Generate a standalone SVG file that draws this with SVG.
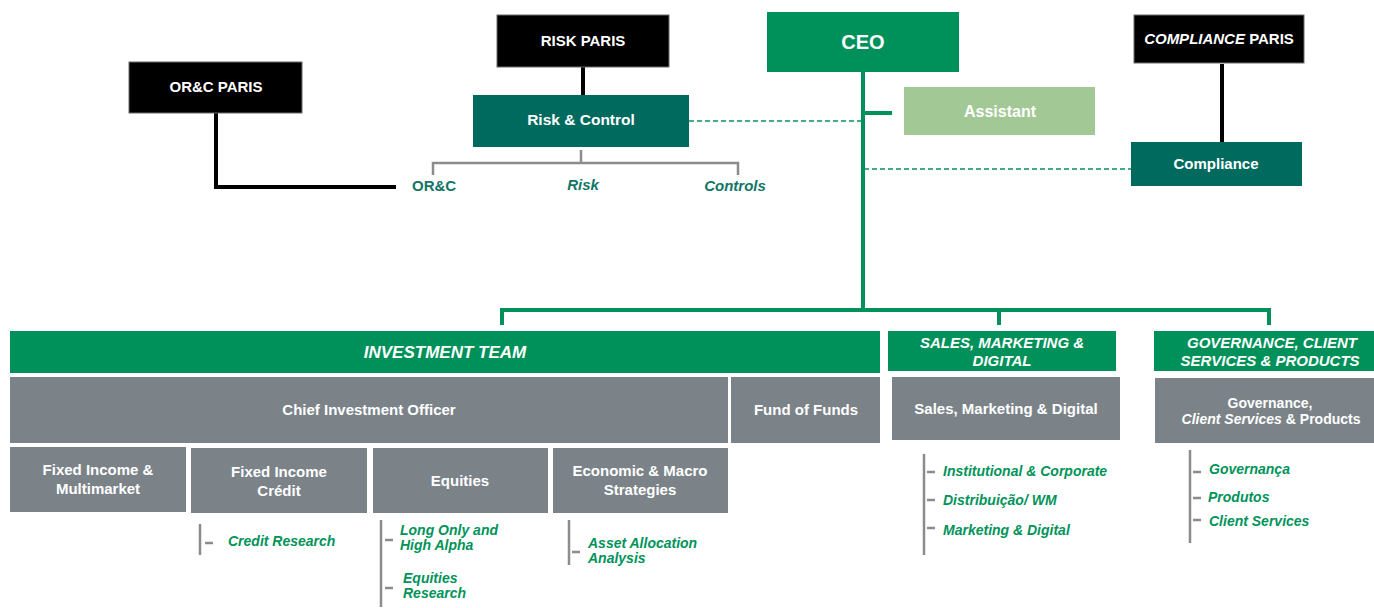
<svg xmlns="http://www.w3.org/2000/svg" width="1374" height="608" viewBox="0 0 1374 608">
<style>
text{font-family:"Liberation Sans",Arial,sans-serif;font-weight:bold;}
.w{fill:#ffffff;font-size:15px;text-anchor:middle;}
.blk{fill:#000000;stroke:#6a6a6a;stroke-width:1;}
.grn{fill:#00915A;}
.teal{fill:#006A5F;}
.gry{fill:#7B8389;}
.lab{fill:#127566;font-size:15px;}
.sub{fill:#00935A;font-size:14px;font-style:italic;}
.hd{fill:#ffffff;font-size:15px;font-style:italic;text-anchor:middle;}
.bl{stroke:#000;stroke-width:4;fill:none;}
.gl{stroke:#00915A;stroke-width:4;fill:none;}
.dl{stroke:#00915A;stroke-width:1.6;stroke-dasharray:5,3;fill:none;}
.gr{stroke:#8C8C8C;stroke-width:2.5;fill:none;}
</style>
<g id="connectors">
<path class="bl" d="M216 113 V187 H396"/>
<path class="bl" d="M583 67 V95"/>
<path class="bl" d="M1222 64 V142"/>
<path class="gr" d="M581 150 V163 M433 175 V163 H738 V175"/>
<path class="dl" d="M689 121 H862"/>
<path class="dl" d="M864 169 H1131"/>
<path class="gl" d="M863 72 V310"/>
<path class="gl" d="M863 113 H892"/>
<path class="gl" d="M502 325 V310 H1269 V325"/>
<path class="gl" d="M999 310 V325"/>
<path class="gr" d="M200 524 V555 M205 543 H213"/>
<path class="gr" d="M381 520 V607 M385 540 H393 M385 588 H393"/>
<path class="gr" d="M569 520 V565 M572 552 H580"/>
<path class="gr" d="M924 454 V555 M927 472 H935 M927 500 H935 M927 528 H935"/>
<path class="gr" d="M1190 450 V543 M1193 472 H1201 M1193 498 H1201 M1193 520 H1201"/>
</g>
<g id="orc-paris"><rect class="blk" x="129" y="62" width="173" height="51"/><text class="w" x="216" y="92">OR&amp;C PARIS</text></g>
<g id="risk-paris"><rect class="blk" x="497" y="15" width="172" height="52"/><text class="w" x="583" y="46">RISK PARIS</text></g>
<g id="risk-control"><rect class="teal" x="473" y="95" width="216" height="52"/><text class="w" x="581" y="125" style="font-size:15.5px">Risk &amp; Control</text></g>
<g id="orc-label"><text class="lab" x="412" y="191">OR&amp;C</text></g>
<g id="risk-label"><text class="lab" x="583" y="190" text-anchor="middle" font-style="italic">Risk</text></g>
<g id="controls-label"><text class="lab" x="735" y="191" text-anchor="middle" font-style="italic">Controls</text></g>
<g id="ceo"><rect class="grn" x="767" y="12" width="192" height="60"/><text class="w" x="863" y="49" style="font-size:20px">CEO</text></g>
<g id="assistant"><rect x="904" y="87" width="191" height="48" fill="#A2C896"/><text class="w" x="1000" y="117" style="font-size:16px">Assistant</text></g>
<g id="compliance-paris"><rect class="blk" x="1134" y="15" width="170" height="48"/><text class="w" x="1219" y="44"><tspan font-style="italic">COMPLIANCE</tspan> PARIS</text></g>
<g id="compliance"><rect class="teal" x="1131" y="142" width="171" height="44"/><text class="w" x="1216" y="169">Compliance</text></g>
<g id="investment-team"><rect class="grn" x="10" y="331" width="870" height="42"/><text class="hd" x="445" y="358" style="font-size:17px">INVESTMENT TEAM</text></g>
<g id="sales-header"><rect class="grn" x="888" y="331" width="228" height="40"/><text class="hd" x="1002" y="348">SALES, MARKETING &amp;</text><text class="hd" x="1002" y="366">DIGITAL</text></g>
<g id="gov-header"><rect class="grn" x="1154" y="331" width="220" height="40"/><text class="hd" x="1272" y="348">GOVERNANCE, CLIENT</text><text class="hd" x="1270" y="366">SERVICES &amp; PRODUCTS</text></g>
<g id="cio"><rect class="gry" x="10" y="377" width="718" height="66"/><text class="w" x="369" y="415">Chief Investment Officer</text></g>
<g id="fof"><rect class="gry" x="731" y="377" width="149" height="66"/><text class="w" x="806" y="415">Fund of Funds</text></g>
<g id="sales"><rect class="gry" x="892" y="377" width="228" height="63"/><text class="w" x="1006" y="414">Sales, Marketing &amp; Digital</text></g>
<g id="gov"><rect class="gry" x="1155" y="378" width="219" height="65"/><text class="w" x="1270" y="408" style="font-size:14px">Governance,</text><text class="w" x="1271" y="424" style="font-size:14px"><tspan font-style="italic">Client Services</tspan> &amp; Products</text></g>
<g id="fim"><rect class="gry" x="10" y="447" width="176" height="65"/><text class="w" x="98" y="475">Fixed Income &amp;</text><text class="w" x="98" y="494">Multimarket</text></g>
<g id="fic"><rect class="gry" x="191" y="448" width="176" height="65"/><text class="w" x="279" y="477">Fixed Income</text><text class="w" x="279" y="496">Crédit</text></g>
<g id="equities"><rect class="gry" x="373" y="448" width="175" height="65"/><text class="w" x="460" y="486">Equities</text></g>
<g id="macro"><rect class="gry" x="553" y="448" width="175" height="65"/><text class="w" x="640" y="476">Economic &amp; Macro</text><text class="w" x="640" y="495">Strategies</text></g>
<g id="credit-research"><text class="sub" x="228" y="546">Credit Research</text></g>
<g id="long-only"><text class="sub" x="400" y="535">Long Only and</text><text class="sub" x="400" y="550">High Alpha</text></g>
<g id="equities-research"><text class="sub" x="403" y="583">Equities</text><text class="sub" x="403" y="598">Research</text></g>
<g id="asset-allocation"><text class="sub" x="588" y="548">Asset Allocation</text><text class="sub" x="588" y="563">Analysis</text></g>
<g id="institutional"><text class="sub" x="943" y="476">Institutional  &amp; Corporate</text></g>
<g id="distribuicao"><text class="sub" x="943" y="505">Distribuição/  WM</text></g>
<g id="marketing"><text class="sub" x="943" y="535">Marketing  &amp; Digital</text></g>
<g id="governanca"><text class="sub" x="1209" y="474">Governança</text></g>
<g id="produtos"><text class="sub" x="1208" y="502">Produtos</text></g>
<g id="client-services"><text class="sub" x="1209" y="526">Client Services</text></g>
</svg>
